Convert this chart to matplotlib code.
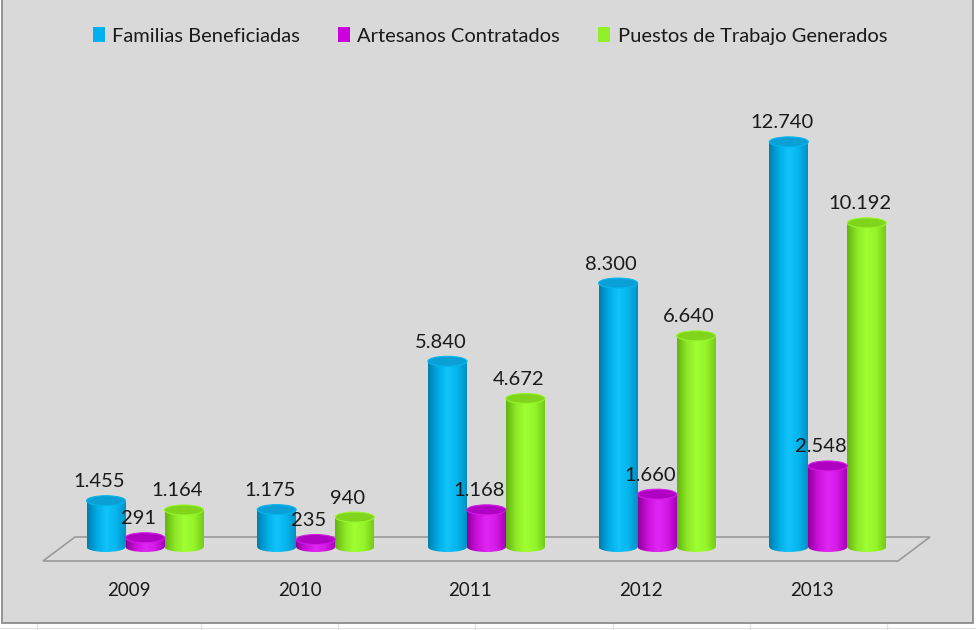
import numpy as np
import matplotlib.pyplot as plt
from matplotlib.patches import Ellipse, Polygon, Rectangle, Patch
from matplotlib.colors import LinearSegmentedColormap
from matplotlib.lines import Line2D

years = ['2009', '2010', '2011', '2012', '2013']
familias = [1455, 1175, 5840, 8300, 12740]
artesanos = [291, 235, 1168, 1660, 2548]
puestos = [1164, 940, 4672, 6640, 10192]
series_names = ['Familias Beneficiadas', 'Artesanos Contratados', 'Puestos de Trabajo Generados']
series_vals = [familias, artesanos, puestos]

# colours: legend/body, cap, gradient left->right
body_cols = ['#00b0f0', '#cc00dd', '#92f02a']
cap_cols = ['#0a9fd6', '#b000c4', '#80d41c']
grads = [['#007fae', '#00abe4', '#12c4fb', '#05b6ee', '#0090c4'],
         ['#8e009c', '#cc10dc', '#e026f2', '#d41ae6', '#a800bb'],
         ['#62b410', '#8ee826', '#a0ff33', '#96f52a', '#74cc18']]

plt.rcParams['font.family'] = ['Lato', 'DejaVu Sans']
W, H = 976, 630
fig = plt.figure(figsize=(9.76, 6.3), dpi=100)
fig.patch.set_facecolor('white')

def fx(px):
    return px / W

def fy(py):
    return 1 - py / H

# spreadsheet grid around the chart
for gx in [37, 201, 338, 475, 613, 750, 887]:
    fig.add_artist(Line2D([fx(gx), fx(gx)], [fy(623), fy(630)], color='#e4e4e4', lw=1, zorder=-3))
fig.add_artist(Line2D([0, 1], [fy(628), fy(628)], color='#e4e4e4', lw=1, zorder=-3))

# chart area
fig.add_artist(Rectangle((fx(2), fy(623)), fx(971), 1, transform=fig.transFigure,
                         facecolor='#d9d9d9', edgecolor='#8c8c8c', lw=1.3, zorder=-2))

# floor
floor = Polygon([(fx(43), fy(561)), (fx(75), fy(537)), (fx(930), fy(537)), (fx(898), fy(561))],
                closed=True, transform=fig.transFigure, facecolor='#dadada',
                edgecolor='#9a9a9a', lw=1.2, zorder=-1)
fig.add_artist(floor)

ax = fig.add_axes([0, 0, 1, 1])
ax.patch.set_alpha(0)
ax.axis('off')

gx0, gstep = 145, 170.7   # pixel x of group centre, group spacing
base, scale = 547, 0.0318  # pixel y of zero, px per unit
xlim = ((0 - gx0) / gstep, (W - gx0) / gstep)
ylim = ((base - H) / scale, base / scale)

x = np.arange(len(years))
width = 39 / gstep
off = 39 / gstep
eh = 10 / scale

for j, vals in enumerate(series_vals):
    cmap = LinearSegmentedColormap.from_list('c%d' % j, grads[j])
    grad = np.linspace(0, 1, 64).reshape(1, -1)
    xs = x + (j - 1) * off
    bars = ax.bar(xs, vals, width, color='none', edgecolor='none', zorder=3)
    for xi, v, b in zip(xs, vals, bars):
        x0, x1 = xi - width / 2, xi + width / 2
        im = ax.imshow(grad, extent=[x0, x1, 0, v], cmap=cmap, aspect='auto', zorder=3)
        im.set_clip_path(b)
        be = Ellipse((xi, 0), width, eh, facecolor='none', edgecolor='none')
        ax.add_patch(be)
        im2 = ax.imshow(grad, extent=[x0, x1, -eh, 0], cmap=cmap, aspect='auto', zorder=3)
        im2.set_clip_path(be)
        ax.add_patch(Ellipse((xi, v), width, eh, facecolor=cap_cols[j],
                             edgecolor=grads[j][3], lw=0.8, zorder=4))
        ax.text(xi - 7 / gstep, v + 19 / scale, f'{v:,}'.replace(',', '.'),
                ha='center', va='center', fontsize=14.5, color='#1a1a1a', zorder=5)

for i, yr in enumerate(years):
    ax.text(i - 16 / gstep, (base - 590) / scale, yr, ha='center', va='center',
            fontsize=13.5, color='#1a1a1a')

ax.set_xlim(xlim)
ax.set_ylim(ylim)

handles = [Patch(facecolor=c, edgecolor='none') for c in body_cols]
fig.legend(handles, series_names, loc='center', bbox_to_anchor=(fx(490), fy(36)),
           ncol=3, frameon=False, fontsize=14.5, handlelength=0.6, handleheight=0.75,
           handletextpad=0.35, columnspacing=1.9, labelcolor='#1a1a1a')

fig.savefig('out.png', dpi=100, facecolor='white')
